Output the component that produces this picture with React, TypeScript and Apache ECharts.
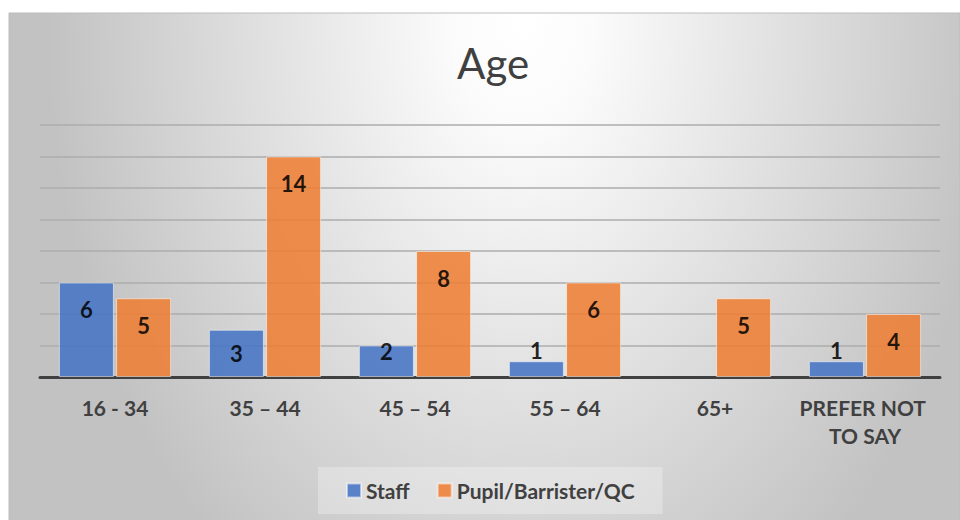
import React, { useEffect, useRef } from "react";
import * as echarts from "echarts";

const categories = ["16 - 34", "35 – 44", "45 – 54", "55 – 64", "65+", "PREFER NOT TO SAY"];
const staffValues = [6, 3, 2, 1, 0, 1];
const pupilValues = [5, 14, 8, 6, 5, 4];
const seriesNames = ["Staff", "Pupil/Barrister/QC"];
const titleText = "Age";

const FONT = "Lato, 'Open Sans', sans-serif";

function labelFor(v: number) {
  if (v >= 4) return { position: "insideTop", distance: 16 };
  if (v === 3) return { position: "inside" };
  if (v === 2) return { position: "insideTop", distance: -5 };
  return { position: "top", distance: 0 };
}

function toData(values: number[]) {
  return values.map((v) => {
    const item: any = { value: v, label: labelFor(v) };
    if (v === 0) item.itemStyle = { borderWidth: 0, opacity: 0 };
    return item;
  });
}

export default function App() {
  const ref = useRef<HTMLDivElement>(null);
  useEffect(() => {
    if (!ref.current) return;
    const chart = echarts.init(ref.current, null, { renderer: "svg" });
    const labelBase = {
      show: true,
      color: "#000000",
      fontFamily: FONT,
      fontWeight: "bold",
      fontSize: 22,
      formatter: (p: any) => (p.value ? String(p.value) : ""),
    };
    chart.setOption({
      animation: false,
      backgroundColor: "#ffffff",
      graphic: [
        {
          type: "rect",
          z: -10,
          silent: true,
          shape: { x: 9, y: 13, width: 951, height: 1376 },
          style: {
            fill: new echarts.graphic.RadialGradient(0.54, 0.005, 0.5, [
              { offset: 0, color: "#ffffff" },
              { offset: 0.15, color: "#fbfbfb" },
              { offset: 1, color: "#c2c2c2" },
            ]),
            stroke: "#bdbdbd",
            lineWidth: 1,
          },
        },
      ],
      title: {
        text: titleText,
        left: 452,
        top: 37,
        textStyle: {
          fontFamily: FONT,
          fontWeight: "normal",
          fontSize: 42,
          color: "#404040",
        },
      },
      legend: {
        data: seriesNames,
        left: 318,
        top: 467,
        icon: "rect",
        itemWidth: 14,
        itemHeight: 14,
        itemGap: 27,
        padding: [13, 28, 13, 28],
        backgroundColor: "rgba(255,255,255,0.28)",
        textStyle: {
          fontFamily: FONT,
          fontWeight: "bold",
          fontSize: 21,
          color: "#404040",
        },
      },
      grid: { left: 40, right: 20, top: 125, bottom: 143 },
      xAxis: {
        type: "category",
        data: categories,
        axisLine: { show: true, lineStyle: { color: "#404040", width: 3 } },
        axisTick: { show: false },
        axisLabel: {
          margin: 16,
          fontFamily: FONT,
          fontWeight: "bold",
          fontSize: 21,
          color: "#404040",
          lineHeight: 28,
          width: 145,
          overflow: "break",
          interval: 0,
        },
      },
      yAxis: {
        type: "value",
        min: 0,
        max: 16,
        interval: 2,
        axisLabel: { show: false },
        axisLine: { show: false },
        axisTick: { show: false },
        splitLine: { lineStyle: { color: "#adadad", width: 1.5 } },
      },
      series: [
        {
          name: seriesNames[0],
          type: "bar",
          barWidth: 55,
          barGap: "4%",
          data: toData(staffValues),
          itemStyle: {
            color: "#4472C4",
            opacity: 0.86,
            borderColor: "rgba(255,255,255,0.6)",
            borderWidth: 1,
          },
          label: labelBase,
        },
        {
          name: seriesNames[1],
          type: "bar",
          barWidth: 55,
          barGap: "4%",
          data: toData(pupilValues),
          itemStyle: {
            color: "#ED7D31",
            opacity: 0.86,
            borderColor: "rgba(255,255,255,0.6)",
            borderWidth: 1,
          },
          label: labelBase,
        },
      ],
    });
    return () => chart.dispose();
  }, []);
  return (
    <div
      ref={ref}
      style={{ position: "absolute", left: 0, top: 0, width: 960, height: 520 }}
    />
  );
}
